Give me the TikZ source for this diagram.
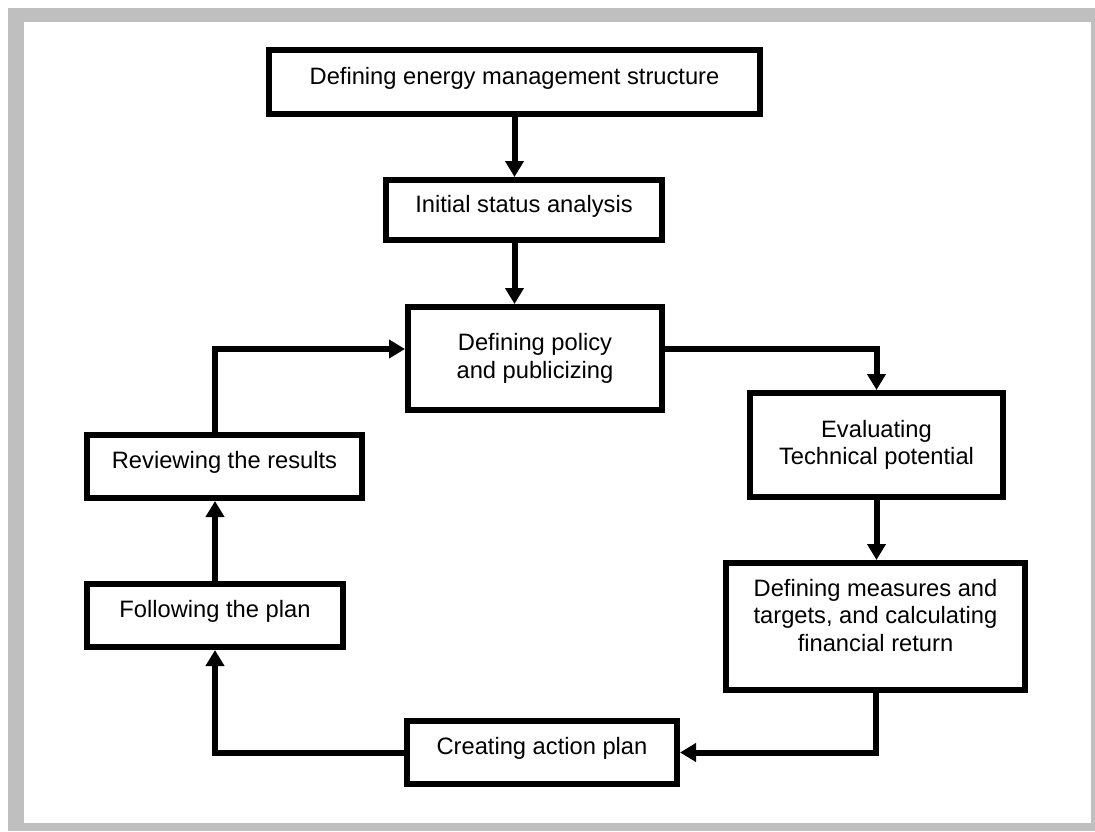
\documentclass[tikz,border=0pt]{standalone}
\usepackage{fontspec}
\setmainfont{Liberation Sans}
\usetikzlibrary{arrows.meta}

\tikzset{
  stepbox/.style={draw, line width=6pt, fill=white, inner sep=0pt, align=center,
    font=\fontsize{23.7}{27.5}\selectfont},
  onebox/.style={stepbox, text height=17pt, text depth=13pt},
  flow/.style={line width=6pt, -{Triangle[length=16pt,width=18pt]}},
}

\begin{document}
\begin{tikzpicture}[x=1pt,y=-1pt]
    % frame
    \useasboundingbox (0,0) rectangle (1095,831);
    \fill[black!25] (8,8) rectangle (1095,831);
    \fill[white] (24,22) rectangle (1091,823);

    % boxes
    \node[onebox, minimum width=491pt, minimum height=64pt] (struct) at (514.5,82) {Defining energy management structure};
    \node[onebox, minimum width=276pt, minimum height=60pt] (initial) at (524,210) {Initial status analysis};
    \node[stepbox, minimum width=254pt, minimum height=103pt] (policy) at (535,358.5) {Defining policy\\and publicizing};
    \node[stepbox, minimum width=253pt, minimum height=104pt] (eval) at (876.5,445) {Evaluating\\Technical potential};
    \node[stepbox, minimum width=299pt, minimum height=127pt] (measures) at (875.5,626.5) {Defining measures and\\targets, and calculating\\financial return\rule[-23pt]{0pt}{23pt}};
    \node[onebox, minimum width=270pt, minimum height=63pt] (creating) at (542,752.5) {Creating action plan};
    \node[onebox, minimum width=256pt, minimum height=63pt] (following) at (215,615.5) {Following the plan};
    \node[onebox, minimum width=275pt, minimum height=63pt] (reviewing) at (224.5,466.5) {Reviewing the results};

    % arrows
    \draw[flow] (struct.south) -- (struct.south |- initial.north);
    \draw[flow] (initial.south -| struct) -- (policy.north -| struct);
    \draw[flow] ([yshift=9.5pt]policy.east) -| (eval.north);
    \draw[flow] (eval.south) -- (eval.south |- measures.north);
    \draw[flow] (measures.south) |- (creating.east);
    \draw[flow] (creating.west) -| (following.south);
    \draw[flow] (following.north) -- (following.north |- reviewing.south);
    \draw[flow] (reviewing.north -| following) |- ([yshift=9.5pt]policy.west);
\end{tikzpicture}
\end{document}
